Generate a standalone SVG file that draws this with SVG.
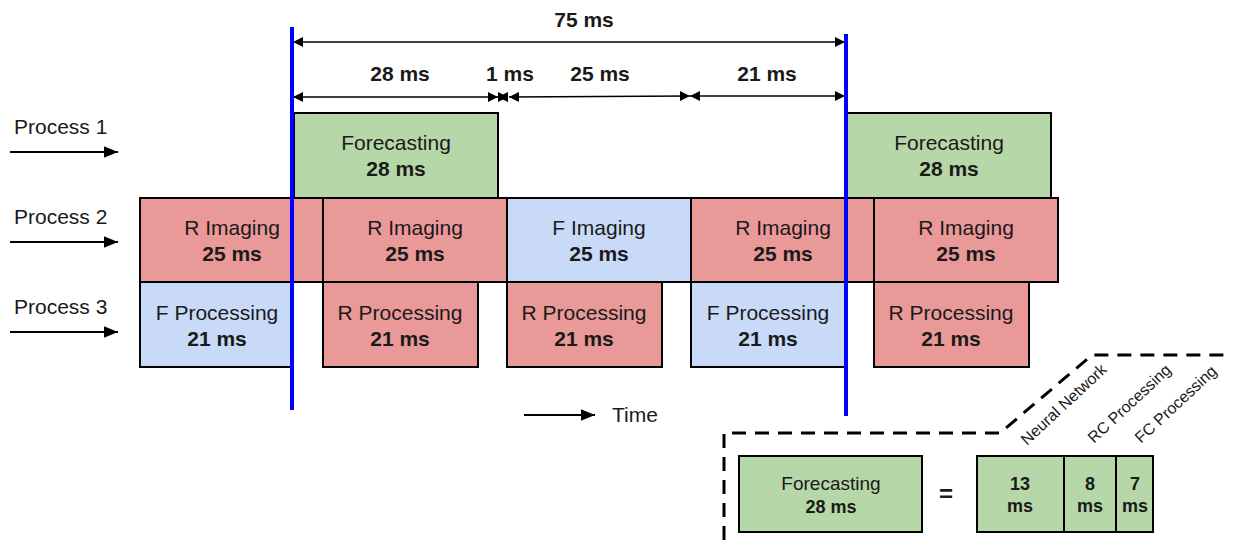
<svg xmlns="http://www.w3.org/2000/svg" width="1235" height="550" viewBox="0 0 1235 550">
<defs>
<marker id="ah" viewBox="0 0 10 10" refX="10" refY="5" markerWidth="10" markerHeight="10" markerUnits="userSpaceOnUse" orient="auto-start-reverse"><path d="M0,0 L10,5 L0,10 z" fill="#000"/></marker>
<marker id="ab" viewBox="0 0 12 10" refX="12" refY="5" markerWidth="14" markerHeight="12" markerUnits="userSpaceOnUse" orient="auto"><path d="M0,0 L12,5 L0,10 z" fill="#000"/></marker>
</defs>
<style>
text{font-family:"Liberation Sans",Arial,sans-serif;fill:#1a1a1a}
.lbl{font-size:21px}
.t{font-size:21px;text-anchor:middle}
.tb{font-size:21px;text-anchor:middle;font-weight:bold}
.s{font-size:19px;text-anchor:middle}
.sb{font-size:18px;text-anchor:middle;font-weight:bold}
.r{font-size:16px}
.box{stroke:#000;stroke-width:2}
.g{fill:#b6d7a8}
.red{fill:#ea9999}
.bl{fill:#c9daf8}
.dim{stroke:#000;stroke-width:1.3;fill:none}
.arr{stroke:#000;stroke-width:2;fill:none}
</style>
<rect width="1235" height="550" fill="#fff"/>
<g id="labels">
<text class="lbl" x="14" y="134">Process 1</text>
<text class="lbl" x="14" y="224">Process 2</text>
<text class="lbl" x="14" y="314">Process 3</text>
<text class="lbl" x="612" y="422">Time</text>
</g>
<g id="connectors">
<line class="arr" x1="10" y1="152" x2="118" y2="152" marker-end="url(#ab)"/>
<line class="arr" x1="10" y1="242" x2="118" y2="242" marker-end="url(#ab)"/>
<line class="arr" x1="10" y1="332" x2="118" y2="332" marker-end="url(#ab)"/>
<line class="arr" x1="524" y1="415" x2="595" y2="415" marker-end="url(#ab)"/>
<line class="dim" x1="293" y1="42" x2="845" y2="42" marker-start="url(#ah)" marker-end="url(#ah)"/>
<line class="dim" x1="293" y1="97" x2="498" y2="97" marker-start="url(#ah)" marker-end="url(#ah)"/>
<line class="dim" x1="498" y1="97" x2="508" y2="97" marker-start="url(#ah)" marker-end="url(#ah)"/>
<line class="dim" x1="509" y1="97" x2="690" y2="96" marker-start="url(#ah)" marker-end="url(#ah)"/>
<line class="dim" x1="690" y1="96" x2="845" y2="96" marker-start="url(#ah)" marker-end="url(#ah)"/>
</g>
<g id="dims">
<text class="tb" x="584" y="27">75 ms</text>
<text class="tb" x="400" y="81">28 ms</text>
<text class="tb" x="510" y="81">1 ms</text>
<text class="tb" x="600" y="81">25 ms</text>
<text class="tb" x="767" y="81">21 ms</text>
</g>
<g id="p1-forecast-1"><rect class="box g" x="294" y="113" width="204" height="85"/><text class="t" x="396" y="150">Forecasting</text><text class="tb" x="396" y="176">28 ms</text></g>
<g id="p1-forecast-2"><rect class="box g" x="847" y="113" width="204" height="85"/><text class="t" x="949" y="150">Forecasting</text><text class="tb" x="949" y="176">28 ms</text></g>
<g id="p2-r1"><rect class="box red" x="140" y="198" width="183" height="84"/><text class="t" x="232" y="235">R Imaging</text><text class="tb" x="232" y="261">25 ms</text></g>
<g id="p2-r2"><rect class="box red" x="323" y="198" width="184" height="84"/><text class="t" x="415" y="235">R Imaging</text><text class="tb" x="415" y="261">25 ms</text></g>
<g id="p2-f"><rect class="box bl" x="507" y="198" width="184" height="84"/><text class="t" x="599" y="235">F Imaging</text><text class="tb" x="599" y="261">25 ms</text></g>
<g id="p2-r3"><rect class="box red" x="691" y="198" width="183" height="84"/><text class="t" x="783" y="235">R Imaging</text><text class="tb" x="783" y="261">25 ms</text></g>
<g id="p2-r4"><rect class="box red" x="874" y="198" width="184" height="84"/><text class="t" x="966" y="235">R Imaging</text><text class="tb" x="966" y="261">25 ms</text></g>
<g id="p3-f1"><rect class="box bl" x="140" y="282" width="152" height="85"/><text class="t" x="217" y="320">F Processing</text><text class="tb" x="217" y="346">21 ms</text></g>
<g id="p3-r1"><rect class="box red" x="323" y="282" width="155" height="85"/><text class="t" x="400" y="320">R Processing</text><text class="tb" x="400" y="346">21 ms</text></g>
<g id="p3-r2"><rect class="box red" x="507" y="282" width="155" height="85"/><text class="t" x="584" y="320">R Processing</text><text class="tb" x="584" y="346">21 ms</text></g>
<g id="p3-f2"><rect class="box bl" x="691" y="282" width="155" height="85"/><text class="t" x="768" y="320">F Processing</text><text class="tb" x="768" y="346">21 ms</text></g>
<g id="p3-r3"><rect class="box red" x="874" y="282" width="155" height="85"/><text class="t" x="951" y="320">R Processing</text><text class="tb" x="951" y="346">21 ms</text></g>
<g id="bars">
<line x1="292" y1="27" x2="292" y2="410" stroke="#0000ff" stroke-width="4"/>
<line x1="846" y1="34" x2="846" y2="416" stroke="#0000ff" stroke-width="4"/>
</g>
<g id="detail">
<path d="M724,540 L724,433 L1000,433 L1092,355 L1230,355" fill="none" stroke="#000" stroke-width="3" stroke-dasharray="14,9"/>
<rect class="box g" x="739" y="456" width="183" height="76"/>
<text class="s" x="831" y="490">Forecasting</text>
<text class="sb" x="831" y="513">28 ms</text>
<text x="946" y="502" style="font-size:24px;font-weight:bold;text-anchor:middle">=</text>
<rect class="box g" x="977" y="456" width="87" height="76"/>
<rect class="box g" x="1064" y="456" width="52" height="76"/>
<rect class="box g" x="1116" y="456" width="37" height="76"/>
<text class="sb" x="1020" y="490">13</text><text class="sb" x="1020" y="512">ms</text>
<text class="sb" x="1090" y="490">8</text><text class="sb" x="1090" y="512">ms</text>
<text class="sb" x="1135" y="490">7</text><text class="sb" x="1135" y="512">ms</text>
<text class="r" transform="translate(1027,446) rotate(-43)">Neural Network</text>
<text class="r" transform="translate(1094,444) rotate(-43)">RC Processing</text>
<text class="r" transform="translate(1141,444) rotate(-43)">FC Processing</text>
</g>
</svg>
